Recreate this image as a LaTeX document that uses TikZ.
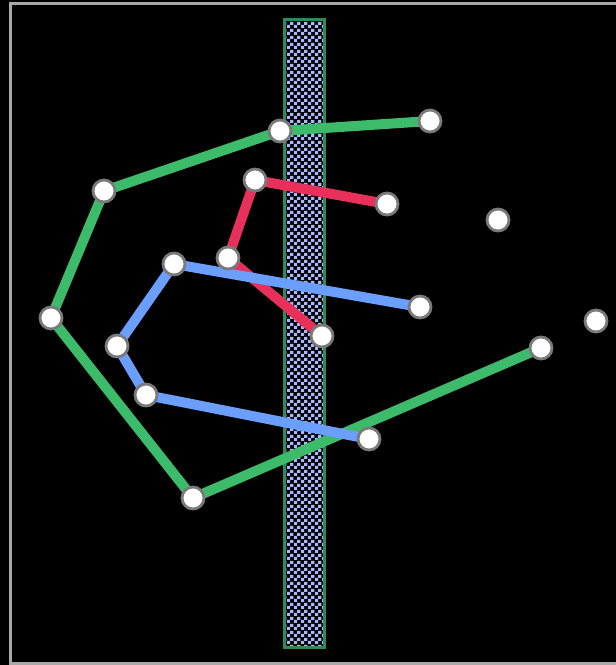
\documentclass[tikz,border=0pt]{standalone}
\usepackage{tikz}
\usepackage{xcolor}
\usetikzlibrary{patterns,backgrounds}
\definecolor{MapGreen}{HTML}{3CBB6A}
\definecolor{MapRed}{HTML}{E8305A}
\definecolor{MapBlue}{HTML}{6A9EFF}
\definecolor{MapRiver}{HTML}{2E8B57}
\definecolor{MapWater}{HTML}{A8B8FF}
\definecolor{MapFrame}{HTML}{A8A8A8}
\definecolor{MapRing}{HTML}{7A7A7A}
\pgfdeclarepatternformonly{riverchecks}{\pgfpointorigin}{\pgfqpoint{7pt}{7pt}}{\pgfqpoint{7pt}{7pt}}{%
    \pgfpathrectangle{\pgfpointorigin}{\pgfqpoint{3.5pt}{3.5pt}}%
    \pgfpathrectangle{\pgfqpoint{3.5pt}{3.5pt}}{\pgfqpoint{3.5pt}{3.5pt}}%
    \pgfusepath{fill}}
\tikzset{
    % stations
    stop/.style={
        circle,
        draw=MapRing,
        line width=2.8pt,
        fill=white,
        minimum size=22pt,
        inner sep=0pt
    },
    % lines
    route/.style={
        line width=10pt,
        line join=round
    },
    green route/.style={route, draw=MapGreen},
    red route/.style={route, draw=MapRed},
    blue route/.style={route, draw=MapBlue},
    river/.style={
        draw=MapRiver,
        line width=3pt,
        pattern=riverchecks,
        pattern color=MapWater
    }
}
\begin{document}
\begin{tikzpicture}[x=1pt, y=-1pt]
        \useasboundingbox (0,0) rectangle (616,665);

        % Stations
        \node[stop] (g1) at (430,121) {};
        \node[stop] (g2) at (280,131) {};
        \node[stop] (g3) at (104,191) {};
        \node[stop] (g4) at (51,318) {};
        \node[stop] (g5) at (193,498) {};
        \node[stop] (g6) at (541,348) {};
        \node[stop] (r1) at (387,204) {};
        \node[stop] (r2) at (255,180) {};
        \node[stop] (r3) at (228,258) {};
        \node[stop] (r4) at (322,336) {};
        \node[stop] (b1) at (420,307) {};
        \node[stop] (b2) at (174,264) {};
        \node[stop] (b3) at (117,346) {};
        \node[stop] (b4) at (146,395) {};
        \node[stop] (b5) at (369,439) {};
        \node[stop] (n1) at (498,220) {};
        \node[stop] (n2) at (596,321) {};

        \begin{scope}[on background layer]
            % Backdrop and frame
            \fill[black] (0,0) rectangle (616,665);
            \draw[MapFrame, line width=3pt] (10.5,3.5) rectangle (630,663);

            % River
            \fill[black] (284.5,19.5) rectangle (324.5,647.5);
            \draw[river] (284.5,19.5) rectangle (324.5,647.5);

            % Routes
            \draw[green route] (g1.center) -- (g2.center) -- (g3.center) -- (g4.center) -- (g5.center) -- (g6.center);
            \draw[red route] (r1.center) -- (r2.center) -- (r3.center) -- (r4.center);
            \draw[blue route] (b1.center) -- (b2.center) -- (b3.center) -- (b4.center) -- (b5.center);
        \end{scope}
    \end{tikzpicture}
\end{document}
